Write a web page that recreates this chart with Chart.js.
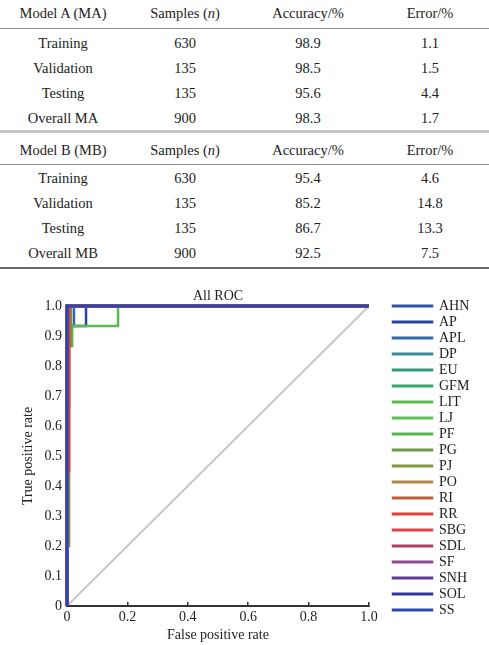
<!DOCTYPE html>
<html><head><meta charset="utf-8">
<script src="https://cdn.jsdelivr.net/npm/chart.js@4.4.1/dist/chart.umd.min.js"></script>
<style>
html,body{margin:0;padding:0;background:#fff;width:489px;height:645px;overflow:hidden;font-family:"Liberation Serif","Times New Roman",serif;color:#222}
#tbl{position:absolute;left:0;top:0;width:489px;height:272px}
.cell{position:absolute;height:25px;line-height:25px;font-size:14.5px;text-align:center;white-space:nowrap;transform:translateX(-50%)}
.rule{position:absolute;left:0;width:489px}
#wrap{position:absolute;left:0;top:272px;width:489px;height:373px}
</style></head><body>
<div id="tbl"></div>
<div id="wrap"><canvas id="c" width="489" height="373" style="width:489px;height:373px"></canvas></div>
<script>
// ---------- table data ----------
const headerA = ['Model A (MA)', 'Samples (n)', 'Accuracy/%', 'Error/%'];
const headerB = ['Model B (MB)', 'Samples (n)', 'Accuracy/%', 'Error/%'];
const rowLabelsA = ['Training', 'Validation', 'Testing', 'Overall MA'];
const rowLabelsB = ['Training', 'Validation', 'Testing', 'Overall MB'];
const samplesA = ['630', '135', '135', '900'];
const samplesB = ['630', '135', '135', '900'];
const accuracyA = ['98.9', '98.5', '95.6', '98.3'];
const accuracyB = ['95.4', '85.2', '86.7', '92.5'];
const errorA = ['1.1', '1.5', '4.4', '1.7'];
const errorB = ['4.6', '14.8', '13.3', '7.5'];

// ---------- ROC data ----------
const classNames = ['AHN','AP','APL','DP','EU','GFM','LIT','LJ','PF','PG','PJ','PO','RI','RR','SBG','SDL','SF','SNH','SOL','SS'];
const classColors = ['#2f55a8','#2744a0','#3068aa','#3a8a98','#34987f','#3aa66a','#58bd4e','#5cc050','#50b84a','#6a9a4a','#84983e','#b0884a','#c0603a','#e04038','#e0404c','#b04062','#904a92','#603a98','#30369c','#2a48b2'];
const fprAHN = [0, 0, 1],               tprAHN = [0, 1, 1];
const fprAP  = [0, 0, 0.063, 0.063, 1], tprAP  = [0, 0.933, 0.933, 1, 1];
const fprAPL = [0, 0, 0.023, 0.023, 1], tprAPL = [0, 0.933, 0.933, 1, 1];
const fprDP  = [0, 0, 1],               tprDP  = [0, 1, 1];
const fprEU  = [0, 0, 1],               tprEU  = [0, 1, 1];
const fprGFM = [0, 0, 1],               tprGFM = [0, 1, 1];
const fprLIT = [0, 0, 0.017, 0.017, 0.169, 0.169, 1], tprLIT = [0, 0.867, 0.867, 0.933, 0.933, 1, 1];
const fprLJ  = [0, 0, 1],               tprLJ  = [0, 1, 1];
const fprPF  = [0, 0, 1],               tprPF  = [0, 1, 1];
const fprPG  = [0, 0, 0.013, 0.013, 1], tprPG  = [0, 0.867, 0.867, 1, 1];
const fprPJ  = [0, 0, 0.007, 0.007, 1], tprPJ  = [0, 0.2, 0.2, 1, 1];
const fprPO  = [0, 0, 0.007, 0.007, 1], tprPO  = [0, 0.667, 0.667, 1, 1];
const fprRI  = [0, 0, 1],               tprRI  = [0, 1, 1];
const fprRR  = [0, 0, 0.007, 0.007, 1], tprRR  = [0, 0.45, 0.45, 1, 1];
const fprSBG = [0, 0, 1],               tprSBG = [0, 1, 1];
const fprSDL = [0, 0, 1],               tprSDL = [0, 1, 1];
const fprSF  = [0, 0, 1],               tprSF  = [0, 1, 1];
const fprSNH = [0, 0, 1],               tprSNH = [0, 1, 1];
const fprSOL = [0, 0, 1],               tprSOL = [0, 1, 1];
const fprSS  = [0, 0, 1],               tprSS  = [0, 1, 1];
const chanceFPR = [0, 1], chanceTPR = [0, 1];
const xTickLabels = ['0', '0.2', '0.4', '0.6', '0.8', '1.0'];
const yTickLabels = ['0', '0.1', '0.2', '0.3', '0.4', '0.5', '0.6', '0.7', '0.8', '0.9', '1.0'];

// ---------- table build ----------
const tbl = document.getElementById('tbl');
const colCenters = [63, 185, 308, 430];
function addRow(cells, cy) {
  cells.forEach((t, i) => {
    const d = document.createElement('div');
    d.className = 'cell';
    d.style.left = colCenters[i] + 'px';
    d.style.top = (cy - 12.5) + 'px';
    if (t.indexOf('(n)') >= 0) {
      d.appendChild(document.createTextNode(t.replace('(n)', '(')));
      const it = document.createElement('i'); it.textContent = 'n'; d.appendChild(it);
      d.appendChild(document.createTextNode(')'));
    } else d.textContent = t;
    tbl.appendChild(d);
  });
}
function addRule(y, h, c) {
  const r = document.createElement('div'); r.className = 'rule';
  r.style.top = y + 'px'; r.style.height = h + 'px'; r.style.background = c; tbl.appendChild(r);
}
addRow(headerA, 13);
addRule(28, 1, '#8a8a8a');
rowLabelsA.forEach((l, i) => addRow([l, samplesA[i], accuracyA[i], errorA[i]], 43 + 25 * i));
addRule(130, 3, '#c4c4c4');
addRow(headerB, 150);
addRule(164, 1, '#8a8a8a');
rowLabelsB.forEach((l, i) => addRow([l, samplesB[i], accuracyB[i], errorB[i]], 178 + 25 * i));
addRule(267, 2, '#6a6a6a');

// ---------- chart ----------
const curves = [[fprAHN,tprAHN],[fprAP,tprAP],[fprAPL,tprAPL],[fprDP,tprDP],[fprEU,tprEU],[fprGFM,tprGFM],[fprLIT,tprLIT],[fprLJ,tprLJ],[fprPF,tprPF],[fprPG,tprPG],[fprPJ,tprPJ],[fprPO,tprPO],[fprRI,tprRI],[fprRR,tprRR],[fprSBG,tprSBG],[fprSDL,tprSDL],[fprSF,tprSF],[fprSNH,tprSNH],[fprSOL,tprSOL],[fprSS,tprSS]];
const toPts = (xs, ys) => xs.map((x, i) => ({x, y: ys[i]}));
const datasets = classNames.map((n, i) => ({
  label: n,
  data: toPts(curves[i][0], curves[i][1]),
  borderColor: classColors[i],
  backgroundColor: classColors[i],
  borderWidth: 2.5,
  pointRadius: 0,
  tension: 0,
  clip: false,
  order: classNames.length - i
}));
datasets.push({
  label: 'chance',
  data: toPts(chanceFPR, chanceTPR),
  borderColor: '#c8c8c8',
  backgroundColor: '#c8c8c8',
  borderWidth: 2,
  pointRadius: 0,
  order: 100
});

const LEGEND_W = 120, LEGEND_GAP = 22, LEGEND_TOP = 25;
const legendPlace = {
  id: 'legendPlace',
  beforeLayout(chart) {
    const lg = chart.legend;
    if (lg && !lg._patched) {
      const orig = lg.fit;
      lg.fit = function () { orig.call(this); this.width = LEGEND_W; };
      lg._patched = true;
    }
  },
  afterLayout(chart) {
    const lg = chart.legend;
    lg.left = chart.chartArea.right + LEGEND_GAP;
    lg.right = lg.left + LEGEND_W;
    lg.top = LEGEND_TOP;
  }
};

Chart.defaults.font.family = "'Liberation Serif','Times New Roman',serif";
Chart.defaults.font.size = 14;
Chart.defaults.color = '#222';

new Chart(document.getElementById('c'), {
  type: 'line',
  data: { datasets },
  plugins: [legendPlace],
  options: {
    responsive: false,
    animation: false,
    devicePixelRatio: 1,
    layout: { padding: 0 },
    plugins: {
      tooltip: { enabled: false },
      title: {
        display: true, text: 'All ROC', fullSize: false,
        font: { size: 14, weight: 'normal', lineHeight: 1.2 },
        padding: { top: 15.6, bottom: 1.6 }, color: '#222'
      },
      legend: {
        position: 'right', align: 'start',
        labels: {
          boxWidth: 39, boxHeight: 0.5, padding: 2,
          font: { size: 14 }, color: '#222',
          filter: (item) => item.datasetIndex < classNames.length,
          sort: (a, b) => a.datasetIndex - b.datasetIndex
        }
      }
    },
    scales: {
      x: {
        type: 'linear', min: 0, max: 1,
        afterFit: (s) => { s.height = 39; },
        afterBuildTicks: (s) => { s.ticks = xTickLabels.map((t, i) => ({ value: i * 0.2 })); },
        ticks: { callback: (v, i) => xTickLabels[i], padding: 6.6, maxRotation: 0, font: { size: 14 } },
        grid: { display: true, drawOnChartArea: false, drawTicks: true, tickLength: -4, color: '#333', lineWidth: 1.5 },
        border: { display: true, color: '#333', width: 2 },
        title: { display: true, text: 'False positive rate', font: { size: 14, lineHeight: 1.2 }, padding: { top: 1.6, bottom: 1.6 }, color: '#222' }
      },
      y: {
        type: 'linear', min: 0, max: 1,
        afterFit: (s) => { s.width = 67; },
        afterBuildTicks: (s) => { s.ticks = yTickLabels.map((t, i) => ({ value: i / 10 })); },
        ticks: { callback: (v, i) => yTickLabels[i], padding: 5, font: { size: 14 } },
        grid: { display: false, drawTicks: false },
        border: { display: false },
        title: { display: true, text: 'True positive rate', font: { size: 14, lineHeight: 1.2 }, padding: { top: 19.6, bottom: 0 }, color: '#222' }
      }
    }
  }
});
</script>
</body></html>
